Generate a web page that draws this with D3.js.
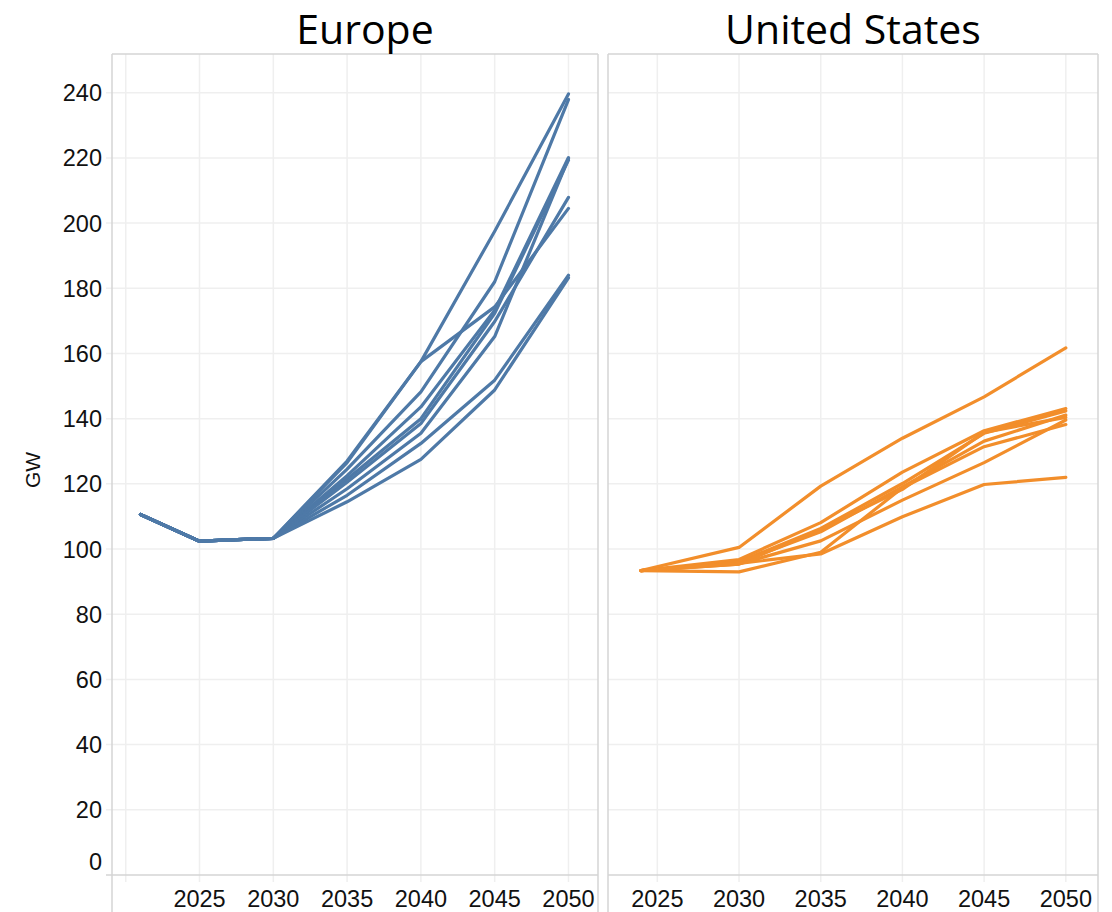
<!DOCTYPE html>
<html>
<head>
<meta charset="utf-8">
<script src="https://cdn.jsdelivr.net/npm/d3@7"></script>
<style>
  html, body { margin: 0; padding: 0; background: #fff; }
  svg { display: block; }
</style>
</head>
<body>
<svg id="chart" width="1112" height="912"></svg>
<script>
// ---------------- DATA ----------------
const panelTitles = ["Europe", "United States"];
const yTicks = [0, 20, 40, 60, 80, 100, 120, 140, 160, 180, 200, 220, 240];
const xTickLabels = [2025, 2030, 2035, 2040, 2045, 2050];
const europeGridYears = [2020, 2025, 2030, 2035, 2040, 2045, 2050];
const usGridYears = [2025, 2030, 2035, 2040, 2045, 2050];

const europeYears = [2021, 2025, 2030, 2035, 2040, 2045, 2050];
const europe1 = [110.6, 102.4, 103.3, 127.0, 157.5, 197.5, 239.6];
const europe2 = [110.6, 102.4, 103.3, 126.5, 157.5, 174.3, 204.5];
const europe3 = [110.6, 102.4, 103.3, 124.5, 148.2, 182.0, 237.9];
const europe4 = [110.6, 102.4, 103.3, 122.5, 143.6, 173.3, 220.1];
const europe5 = [110.6, 102.4, 103.3, 121.5, 140.0, 172.3, 219.3];
const europe6 = [110.6, 102.4, 103.3, 120.5, 138.5, 169.8, 207.9];
const europe7 = [110.6, 102.4, 103.3, 118.5, 135.5, 165.2, 219.8];
const europe8 = [110.6, 102.4, 103.3, 116.5, 132.4, 151.8, 184.0];
const europe9 = [110.6, 102.4, 103.3, 114.5, 127.5, 148.8, 183.2];

const usYears = [2024, 2030, 2035, 2040, 2045, 2050];
const us1 = [93.4, 100.5, 119.3, 134.0, 146.7, 161.7];
const us2 = [93.4, 96.8, 108.1, 123.6, 136.3, 143.1];
const us3 = [93.4, 96.1, 106.3, 120.1, 135.5, 142.4];
const us4 = [93.4, 95.9, 105.3, 119.1, 133.1, 141.1];
const us5 = [93.4, 95.4, 106.0, 118.3, 135.8, 140.4];
const us6 = [93.4, 95.4, 102.5, 115.0, 126.5, 139.6];
const us7 = [93.4, 93.0, 99.0, 118.8, 131.4, 138.2];
const us8 = [93.4, 95.6, 98.5, 109.9, 119.8, 122.0];

const europeSeries = [europe1, europe2, europe3, europe4, europe5, europe6, europe7, europe8, europe9];
const usSeries = [us1, us2, us3, us4, us5, us6, us7, us8];

// ---------------- LAYOUT ----------------
const svg = d3.select("#chart");
const panelTop = 54, axisY = 875, panelBottom = 912;
const gridColor = "#efefef";
const borderColor = "#d4d4d4";
const tickFont = "'Liberation Sans', Arial, sans-serif";
const tickSize = 23.5;

const y = d3.scaleLinear().domain([0, 240]).range([axisY, 92.7]);

const panels = [
  { title: panelTitles[0], titleX: 365, x0: 112, x1: 598,
    domain: [2019.07, 2052.0], grid: europeGridYears, years: europeYears,
    series: europeSeries, color: "#4e79a7" },
  { title: panelTitles[1], titleX: 853, x0: 608, x1: 1098,
    domain: [2021.98, 2051.97], grid: usGridYears, years: usYears,
    series: usSeries, color: "#f28e2b" }
];

panels.forEach((p, pi) => {
  const x = d3.scaleLinear().domain(p.domain).range([p.x0, p.x1]);
  const g = svg.append("g");

  g.selectAll("line.hg").data(yTicks.filter(d => d > 0)).join("line")
    .attr("x1", pi === 0 ? p.x0 - 6 : p.x0).attr("x2", p.x1)
    .attr("y1", d => y(d)).attr("y2", d => y(d))
    .attr("stroke", gridColor).attr("stroke-width", 1.5);

  g.selectAll("line.vg").data(p.grid).join("line")
    .attr("x1", d => x(d)).attr("x2", d => x(d))
    .attr("y1", panelTop).attr("y2", axisY + 7)
    .attr("stroke", gridColor).attr("stroke-width", 1.5);

  g.append("line").attr("x1", p.x0).attr("x2", p.x0).attr("y1", panelTop).attr("y2", panelBottom)
    .attr("stroke", borderColor).attr("stroke-width", 1.5);
  g.append("line").attr("x1", p.x1).attr("x2", p.x1).attr("y1", panelTop).attr("y2", panelBottom)
    .attr("stroke", borderColor).attr("stroke-width", 1.5);
  g.append("line").attr("x1", p.x0).attr("x2", p.x1).attr("y1", panelTop).attr("y2", panelTop)
    .attr("stroke", borderColor).attr("stroke-width", 1.5);
  g.append("line").attr("x1", pi === 0 ? p.x0 - 6 : p.x0).attr("x2", p.x1)
    .attr("y1", axisY).attr("y2", axisY)
    .attr("stroke", borderColor).attr("stroke-width", 1.5);

  g.selectAll("text.xt").data(xTickLabels).join("text")
    .attr("x", d => x(d)).attr("y", 907)
    .attr("text-anchor", "middle")
    .attr("font-family", tickFont).attr("font-size", tickSize).attr("fill", "#111")
    .text(d => d);

  svg.append("text").attr("x", p.titleX).attr("y", 44)
    .attr("text-anchor", "middle")
    .attr("font-family", "'Open Sans', 'Noto Sans', sans-serif")
    .attr("font-size", 41).attr("fill", "#000")
    .text(p.title);

  const line = d3.line().x((d, i) => x(p.years[i])).y(d => y(d));
  g.selectAll("path.s").data(p.series).join("path")
    .attr("d", d => line(d))
    .attr("fill", "none").attr("stroke", p.color)
    .attr("stroke-width", 3.2).attr("stroke-linejoin", "round").attr("stroke-linecap", "round");
});

svg.selectAll("text.yt").data(yTicks).join("text")
  .attr("x", 102).attr("y", d => d === 0 ? 870 : y(d) + 8.5)
  .attr("text-anchor", "end")
  .attr("font-family", tickFont).attr("font-size", tickSize).attr("fill", "#111")
  .text(d => d);

svg.append("text")
  .attr("transform", "translate(40,470) rotate(-90)")
  .attr("text-anchor", "middle")
  .attr("font-family", tickFont).attr("font-size", 21).attr("fill", "#111")
  .text("GW");
</script>
</body>
</html>
